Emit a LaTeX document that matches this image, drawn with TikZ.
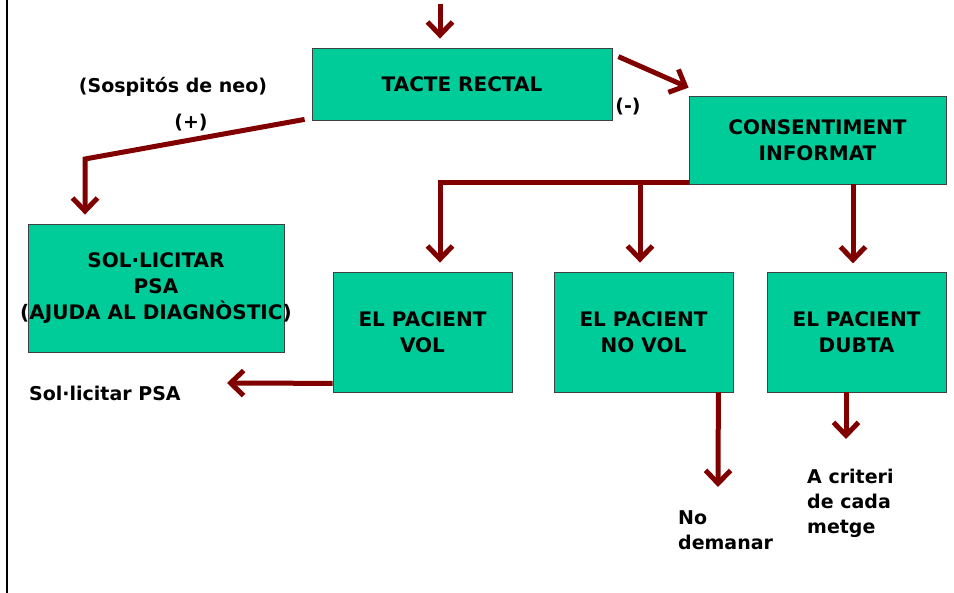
\documentclass[tikz,border=0pt]{standalone}
\usepackage{fontspec}
\setmainfont{DejaVu Sans}
\usetikzlibrary{arrows.meta,calc}
\definecolor{boxgreen}{RGB}{0,204,153}
\definecolor{flowred}{RGB}{128,0,0}
\begin{document}
\begin{tikzpicture}[x=1pt,y=-1pt,
  box/.style={draw=black!75, line width=0.8pt, fill=boxgreen, inner sep=0pt},
  boxtext/.style={inner sep=0pt, align=center, font=\fontsize{20}{26}\selectfont\bfseries},
  flow/.style={draw=flowred, line width=5pt,
    -{Straight Barb[length=13pt,width=25pt]}},
  lbl/.style={font=\fontsize{19}{25}\selectfont\bfseries, inner sep=0pt, align=left}]
\useasboundingbox (0,0) rectangle (954,593);

% left margin rule
\draw[line width=2.5pt] (7,0) -- (7,593);

% boxes
\node[box, minimum width=300pt, minimum height=72pt] (tacte) at (462,84) {};
\node[box, minimum width=257pt, minimum height=88pt] (consent) at (817.5,140) {};
\node[box, minimum width=256pt, minimum height=128pt] (sol) at (156,288) {};
\node[box, minimum width=179pt, minimum height=120pt] (vol) at (422.5,332) {};
\node[box, minimum width=179pt, minimum height=120pt] (novol) at (643.5,332) {};
\node[box, minimum width=179pt, minimum height=120pt] (dubta) at (856.5,332) {};

% box captions
\node[boxtext] (tacteT) at (tacte.center) {TACTE RECTAL};
\node[boxtext] (consentT) at (consent.center) {CONSENTIMENT\\INFORMAT};
\node[boxtext] (solT) at (sol.center) {SOL·LICITAR\\PSA\\(AJUDA AL DIAGNÒSTIC)};
\node[boxtext] (volT) at (vol.center) {EL PACIENT\\VOL};
\node[boxtext] (novolT) at (novol.center) {EL PACIENT\\NO VOL};
\node[boxtext] (dubtaT) at (dubta.center) {EL PACIENT\\DUBTA};

% labels
\node[lbl] (neo) at (173,87) {(Sospitós de neo)};
\node[lbl] (plus) at (191,123) {(+)};
\node[lbl] (minus) at (628,107) {(-)};
\node[lbl, anchor=west] (psa) at (29,393) {Sol·licitar PSA};
\node[lbl, anchor=west] (nodem) at (678,530.5) {No\\demanar};
\node[lbl, anchor=west] (crit) at (807,503) {A criteri\\de cada\\metge};

% helper points
\coordinate (in) at (440,4);
\coordinate (bend) at (85,159);
\coordinate (split) at (440,183);
\coordinate (mid) at (640,183);
\coordinate (psatip) at (227,383);
\coordinate (nodemtip) at (718,487);
\coordinate (crittip) at (846,439);

% connectors
\draw[flow] (in) -- ($(in |- tacte.north)+(0,-9)$);
\draw[flow] ($(tacte.north east)+(6,9)$) -- ($(consent.north west)+(0,-8)$);
\draw[flow] ($(tacte.south west)+(-7,-1)$) -- (bend) -- ($(bend |- sol.north)+(0,-9)$);
\draw[flow] (consent.south west |- split) -- (split) -- ($(split |- vol.north)+(0,-9)$);
\draw[flow] (mid) -- ($(mid |- novol.north)+(0,-9)$);
\draw[flow] ($(consent.south)+(35.5,0)$) -- ($(consent.south)+(35.5,79)$);
\draw[flow] ($(vol.south west)+(0,-9)$) -- (psatip);
\draw[flow] ($(novol.south east)+(-15,0)$) -- (nodemtip);
\draw[flow] ($(dubta.south)+(-10.5,0)$) -- (crittip);
\end{tikzpicture}
\end{document}
